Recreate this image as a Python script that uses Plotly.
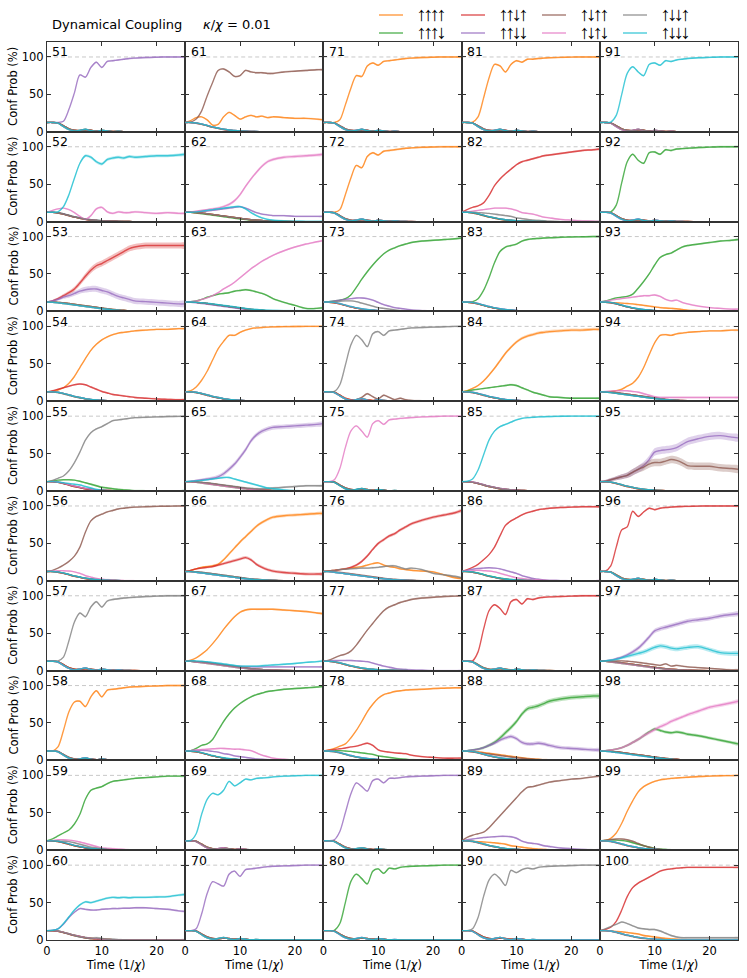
import plotly.graph_objects as go
from plotly.subplots import make_subplots

# ---------------- data ----------------
T = [0, 1, 2, 3, 4, 5, 6, 7, 8, 9, 10, 11, 12, 13, 14, 15, 16, 18, 20, 22, 24, 25.2]
CONFIG_LABELS = ["↑↑↑↑", "↑↑↑↓", "↑↑↓↑", "↑↑↓↓", "↑↓↑↑", "↑↓↑↓", "↑↓↓↑", "↑↓↓↓"]
COLORS = ["#ff7f0e", "#2ca02c", "#d62728", "#9467bd", "#8c564b", "#e377c2", "#7f7f7f", "#17becf"]
ORANGE, GREEN, RED, PURPLE, BROWN, PINK, GRAY, CYAN = range(8)
X_TICKS = [0, 10, 20]
Y_TICKS = [0, 50, 100]
PANEL_IDS = list(range(51, 101))

# shared profiles of the configurations that die out
D_FAST = [12.5, 12.5, 12, 8, 4, 2, 1.5, 2.5, 2, 1, 1.5, 1, 0.5, 0.5, 0.3, 0.2, 0.1, 0, 0, 0, 0, 0]
D_FAST2 = [12.5, 12.5, 11.5, 7, 3, 1, 2, 3.5, 1.5, 0.5, 2, 1, 0.3, 0.8, 0.2, 0.1, 0, 0, 0, 0, 0, 0]
D_MED = [12.5, 12.3, 11.5, 10, 8, 6, 4.5, 3, 2, 1.5, 1, 0.7, 0.5, 0.3, 0.2, 0.1, 0, 0, 0, 0, 0, 0]
D_MED2 = [12.5, 12.5, 12, 10.5, 8.5, 6.5, 5, 3.5, 2.5, 1.8, 1.2, 0.8, 0.5, 0.4, 0.2, 0.1, 0, 0, 0, 0, 0, 0]
D_SLOW = [12.5, 12.5, 12, 11.5, 10.5, 9.5, 8.5, 7.5, 6.5, 5.5, 4.5, 3.5, 2.5, 2, 1.5, 1, 0.7, 0.3, 0, 0, 0, 0]
D_SLOW2 = [12.5, 12.3, 11.5, 10.5, 9.5, 8.5, 7.5, 6.5, 5.5, 4.5, 3.5, 2.8, 2, 1.5, 1, 0.7, 0.4, 0.1, 0, 0, 0, 0]

P51_PURPLE = [12.5, 12.5, 12.5, 14, 30, 52, 76, 73, 86, 93, 86, 94, 95, 96, 97, 98, 98.5, 99.3, 99.7, 100, 100, 100]
P61_BROWN = [12.5, 13, 17, 28, 48, 66, 82, 84, 80, 74, 75, 82, 80, 79, 79, 78, 78, 80, 81, 82, 83, 83]
P61_ORANGE = [12.5, 15, 19, 20, 16, 9, 10, 20, 26, 22, 17, 20, 22, 20, 21, 19, 20, 19, 18, 18, 17, 16]
P71_ORANGE = [12.5, 12.5, 12.5, 16, 36, 58, 75, 74, 88, 92, 89, 94, 95, 96, 97, 98, 98.5, 99.3, 99.7, 100, 100, 100]
P81_ORANGE = [12.5, 12.5, 13, 20, 45, 72, 90, 88, 80, 90, 95, 93, 97, 97, 98, 98.5, 99, 99.5, 99.8, 100, 100, 100]
P91_CYAN = [12.5, 12.5, 13, 22, 50, 78, 87, 80, 75, 90, 92, 89, 95, 94, 96, 97, 98, 99, 99.5, 100, 100, 100]

P52_CYAN = [12.5, 12.5, 13, 20, 36, 58, 78, 88, 86, 80, 77, 83, 85, 86, 85, 87, 86, 87, 88, 88, 89, 90]
P52_PINK = [12.5, 15, 17, 18, 16, 12, 7, 3, 8, 17, 19, 13, 11, 13, 12, 12, 13, 12, 11, 12, 11, 11]
P62_PINK = [12.5, 13, 14, 15, 16, 17, 18, 20, 23, 28, 36, 47, 57, 66, 74, 80, 83, 86, 87, 88, 89, 90]
P62_CYAN = [12.5, 12.5, 13, 14, 15, 16, 17, 18, 19, 20, 20, 17, 12, 8, 5, 3, 2, 1, 0.5, 0.3, 0.2, 0.2]
P62_PURPLE = [12.5, 12.5, 13, 13.5, 14, 15, 16, 17, 18, 19, 20, 18, 15, 12, 10, 9, 8, 8, 7, 7, 7, 7]
P72_ORANGE = [12.5, 12.5, 12.5, 16, 36, 58, 75, 72, 87, 92, 89, 94, 95, 96, 97, 98, 98.5, 99.3, 99.7, 100, 100, 100]
P82_RED = [12.5, 16, 19, 21, 25, 35, 48, 57, 64, 70, 76, 80, 82, 84, 86, 88, 89, 91, 93, 95, 96, 97]
P82_PINK = [12.5, 13, 14, 15, 16, 17, 18, 18, 18, 17, 15, 12, 11, 10, 8, 6, 5, 3, 2, 1, 0.5, 0]
P82_GRAY = [12.5, 12.5, 12.5, 12, 11.5, 11, 10, 9, 8, 7, 5, 4, 3, 2, 1.5, 1, 0.5, 0, 0, 0, 0, 0]
P92_GREEN = [12.5, 12.5, 13, 22, 52, 80, 90, 82, 78, 92, 93, 90, 96, 95, 97, 97.5, 98, 99, 99.5, 100, 100, 100]

P53_RED = [12.5, 14, 17, 21, 25, 30, 38, 47, 55, 61, 64, 68, 72, 76, 80, 84, 86, 88, 88, 88, 88, 88]
P53_PURPLE = [12.5, 14, 16, 19, 21, 24, 27, 29, 30, 30, 28, 26, 23, 20, 18, 16, 14, 13, 12, 11, 10, 10]
P63_PINK = [12.5, 13, 14, 16, 18, 21, 25, 30, 34, 39, 45, 51, 57, 62, 67, 71, 75, 81, 86, 90, 93, 95]
P63_GREEN = [12.5, 13, 14, 16, 19, 21, 23, 24, 25, 27, 28, 29, 28, 26, 24, 21, 17, 12, 8, 4, 4, 5]
P63_CYAN = [12.5, 12.5, 12, 11.5, 11, 10, 9, 8, 7, 6, 5, 4, 3, 2.5, 2, 1.5, 1.2, 1, 1, 1, 0.8, 0.8]
P73_GREEN = [12.5, 13, 14, 15, 17, 22, 32, 43, 53, 62, 70, 77, 82, 85, 88, 90, 92, 94, 95, 96, 97, 98]
P73_PURPLE = [12.5, 13, 14, 15, 16, 17, 18, 18, 17, 15, 12, 9, 7, 5, 4, 3, 2, 1, 0.5, 0, 0, 0]
P73_GRAY = [12.5, 13, 13, 13.5, 14, 14, 13, 11, 9, 7, 5, 4, 3, 2, 1, 0.5, 0.3, 0, 0, 0, 0, 0]
P83_GREEN = [12.5, 12.5, 13, 17, 28, 45, 65, 80, 86, 88, 90, 94, 96, 97, 97.5, 98, 98.5, 99, 99.5, 99.7, 100, 100]
P93_GREEN = [12.5, 14, 16, 18, 19, 20, 23, 31, 40, 50, 62, 72, 76, 78, 82, 86, 88, 90, 92, 94, 95, 96]
P93_PINK = [12.5, 13.5, 15, 16, 17, 18, 19, 20, 21, 21, 22, 20, 16, 14, 15, 12, 10, 7, 5, 4, 3, 3]
P93_ORANGE = [12.5, 12.5, 12, 11.5, 11, 10.5, 10, 9, 8, 7, 6, 5, 4.5, 4, 3.5, 2.5, 1.5, 1, 0.5, 0, 0, 0]

P54_ORANGE = [12.5, 13, 15, 18, 24, 33, 45, 57, 68, 76, 82, 86, 89, 91, 92, 93, 94, 95, 96, 96, 97, 97]
P54_RED = [12.5, 14, 16, 18, 20, 22, 23, 22, 19, 16, 13, 11, 9, 8, 7, 6, 5, 4, 3, 2.5, 2, 2]
P64_ORANGE = [12.5, 14, 19, 28, 40, 55, 70, 80, 88, 88, 92, 95, 97, 98, 98.5, 99, 99.3, 99.6, 99.8, 100, 100, 100]
P74_GRAY = [12.5, 12.5, 13, 22, 48, 75, 88, 82, 73, 90, 93, 88, 94, 95, 96, 97, 98, 98.5, 99, 99.5, 100, 100]
P74_BROWN = [12.5, 12.5, 12, 8, 3, 1, 2, 5, 10, 6, 3, 8, 5, 2, 4, 2, 1, 0.5, 0.2, 0, 0, 0]
P84_ORANGE = [12.5, 14, 17, 21, 27, 35, 44, 54, 64, 72, 79, 84, 87, 89, 91, 92, 93, 94, 95, 95, 96, 96]
P84_GREEN = [12.5, 13.5, 15, 16, 17, 18, 19, 20, 21, 22, 21, 18, 15, 12, 10, 8, 6, 5, 4, 4, 4, 4]
P94_ORANGE = [12.5, 12.5, 13, 14, 16, 20, 24, 32, 45, 62, 78, 88, 89, 88, 90, 91, 92, 93, 94, 94, 95, 95]
P94_PINK = [12.5, 13, 13.5, 14, 14, 14, 13, 12, 10, 8, 6, 5, 5, 5, 5, 5, 5, 5, 5, 5, 5, 5]

P55_GRAY = [12.5, 14, 17, 20, 27, 38, 52, 68, 78, 83, 86, 90, 94, 95, 96, 97, 98, 98.5, 99, 99.5, 99.7, 100]
P55_GREEN = [12.5, 13.5, 14.5, 15, 15, 14.5, 13, 11, 9, 7, 5, 4, 3, 2, 1.5, 1, 0.5, 0.3, 0, 0, 0, 0]
P55_CYAN = [12.5, 12.5, 12, 11, 10, 9, 8, 6, 4, 2, 1, 0.5, 0.2, 0, 0, 0, 0, 0, 0, 0, 0, 0]
P65_PURPLE = [12.5, 13, 14, 15, 16, 17, 19, 23, 29, 36, 45, 55, 67, 75, 80, 83, 85, 86, 87, 88, 89, 90]
P65_CYAN = [12.5, 13, 13.5, 14, 15, 16, 17, 18, 18, 16, 14, 12, 10, 8, 6, 4, 3, 1.5, 0.5, 0.2, 0, 0]
P65_GRAY = [12.5, 12.5, 12, 11.5, 11, 10, 9, 8, 7, 6, 5, 4, 3.5, 3, 3, 3.5, 4, 5, 6, 7, 7, 7]
P75_PINK = [12.5, 12.5, 15, 30, 58, 80, 87, 80, 72, 90, 94, 89, 95, 96, 97, 97.5, 98, 99, 99.5, 100, 100, 100]
P85_CYAN = [12.5, 13, 16, 28, 48, 68, 80, 86, 89, 92, 95, 97, 98, 98.5, 99, 99.3, 99.5, 99.8, 100, 100, 100, 100]
P95_PURPLE = [12.5, 13, 15, 17, 19, 21, 25, 29, 34, 42, 52, 54, 55, 56, 58, 62, 66, 70, 73, 74, 72, 71]
P95_BROWN = [12.5, 13, 15, 17, 19, 21, 25, 29, 32, 36, 38, 38, 40, 42, 41, 38, 34, 33, 33, 31, 30, 29]

P56_BROWN = [12.5, 14, 17, 21, 26, 33, 45, 65, 80, 86, 89, 92, 94, 96, 97, 98, 98.5, 99, 99.5, 99.7, 100, 100]
P56_PINK = [12.5, 13, 13.5, 13.5, 13, 12, 10, 7, 5, 3, 2, 1.5, 1, 0.5, 0.3, 0.2, 0, 0, 0, 0, 0, 0]
P66_ORANGE = [12.5, 14, 16, 18, 19, 20, 22, 28, 36, 44, 52, 59, 66, 73, 78, 82, 85, 87, 88, 89, 90, 90]
P66_RED = [12.5, 14, 16, 17, 18, 19, 21, 23, 25, 27, 29, 31, 28, 22, 18, 15, 13, 11, 10, 9, 9, 9]
P76_RED = [12.5, 13, 14, 15, 16, 18, 21, 26, 33, 42, 50, 55, 60, 63, 68, 72, 76, 81, 85, 88, 91, 94]
P76_ORANGE = [12.5, 13, 14, 15, 16, 17, 18, 19, 21, 23, 24, 21, 19, 18, 16, 15, 14, 13, 12, 8, 4, 3]
P76_GRAY = [12.5, 13, 14, 15, 15.5, 16, 16.5, 17, 17, 17.5, 18, 19, 20, 20, 18, 16, 17, 15, 10, 8, 6, 4]
P86_RED = [12.5, 15, 18, 22, 28, 35, 45, 60, 74, 80, 84, 88, 91, 93, 95, 96, 97, 98, 98.5, 99, 99, 99]
P86_PURPLE = [12.5, 14, 15.5, 16.5, 17, 17.5, 17, 16, 14, 12, 10, 7, 5, 3, 2, 1, 0.5, 0.3, 0, 0, 0, 0]
P86_PINK = [12.5, 13, 13.5, 14, 13.5, 13, 12, 10, 8, 6, 4, 3, 2, 1.5, 1, 0.5, 0.2, 0, 0, 0, 0, 0]
P96_RED = [12.5, 13, 20, 45, 68, 72, 93, 86, 92, 97, 95, 97, 98, 98.5, 99, 99.3, 99.5, 99.8, 100, 100, 100, 100]

P57_GRAY = [12.5, 12.5, 13, 18, 40, 65, 77, 72, 85, 92, 85, 93, 95, 96, 97, 97.5, 98, 99, 99.5, 100, 100, 100]
P67_ORANGE = [12.5, 14, 17, 22, 28, 36, 45, 55, 64, 72, 78, 81, 82, 82, 82, 82, 82, 81, 80, 79, 77, 76]
P67_CYAN = [12.5, 13, 13, 12.5, 12, 11, 10, 9, 8, 7, 6, 6, 6, 6, 6.5, 7, 7.5, 8.5, 9.5, 11, 12, 13]
P67_PURPLE = [12.5, 12.5, 12, 11.5, 11, 10, 9, 8, 7, 6, 5.5, 5, 5, 5, 5, 5, 5, 5, 5, 5, 5, 5]
P77_BROWN = [12.5, 14, 17, 20, 22, 26, 34, 44, 54, 63, 72, 80, 85, 88, 91, 93, 95, 97, 98, 99, 99.5, 100]
P77_PURPLE = [12.5, 13, 13.5, 13.5, 13.5, 13.5, 13, 12.5, 12, 10, 8, 6, 4.5, 3, 2, 1.5, 1, 0.5, 0, 0, 0, 0]
P87_RED = [12.5, 12.5, 13, 25, 55, 80, 88, 83, 75, 92, 95, 89, 96, 95, 97, 98, 98.5, 99, 99.5, 100, 100, 100]
P97_PURPLE = [12.5, 13, 14, 16, 18, 21, 25, 30, 37, 45, 53, 56, 58, 60, 62, 64, 66, 68, 70, 73, 75, 76]
P97_CYAN = [12.5, 13, 14, 15, 17, 19, 21, 23, 25, 28, 31, 33, 32, 30, 29, 30, 31, 32, 28, 24, 23, 23]
P97_BROWN = [12.5, 13, 13, 13, 13, 12.5, 12, 11, 10, 9, 8, 7, 9, 6, 7, 6, 5, 4, 3, 2, 1, 1]

P58_ORANGE = [12.5, 12.5, 18, 40, 65, 78, 79, 72, 85, 93, 85, 94, 95, 96, 97, 98, 98.5, 99, 99.5, 100, 100, 100]
P68_GREEN = [12.5, 13, 16, 20, 22, 28, 40, 52, 62, 70, 76, 81, 85, 88, 90, 92, 93, 95, 96, 97, 98, 99]
P68_PINK = [12.5, 13, 14, 14.5, 15, 15.5, 16, 16, 15.5, 15, 15, 14, 13, 10, 7, 5, 3, 1.5, 0.5, 0, 0, 0]
P68_PURPLE = [12.5, 13, 13.5, 13.5, 13, 12, 11, 9, 8, 6, 5, 4, 3, 2, 1.5, 1, 0.5, 0, 0, 0, 0, 0]
P78_ORANGE = [12.5, 14, 16, 19, 22, 30, 40, 52, 65, 75, 83, 88, 90, 92, 93, 94, 94.5, 95, 96, 96.5, 97, 97]
P78_RED = [12.5, 13.5, 14.5, 15.5, 16.5, 18, 19, 21, 23, 20, 14, 12, 11, 10, 9.5, 9, 7, 5, 4, 3, 3, 3]
P78_GREEN = [12.5, 13, 13, 13, 12.5, 12, 11, 10, 9, 8, 6, 5, 4, 3, 2, 1.5, 1, 0.5, 0, 0, 0, 0]
P88_GREEN = [12.5, 13, 14, 15, 17, 20, 24, 30, 37, 44, 52, 62, 69, 71, 73, 76, 79, 82, 84, 85, 86, 86]
P88_PURPLE = [12.5, 13, 14, 15, 17, 20, 23, 27, 30, 32, 29, 24, 22, 22, 23, 22, 20, 17, 16, 15, 14, 14]
P98_PINK = [12.5, 13, 14, 15, 17, 20, 24, 28, 33, 37, 41, 45, 48, 52, 55, 58, 61, 66, 71, 74, 77, 79]
P98_GREEN = [12.5, 13, 14, 15, 17, 20, 24, 28, 33, 38, 42, 40, 38, 37, 38, 37, 35, 33, 30, 27, 24, 22]

P59_GREEN = [12.5, 15, 19, 23, 27, 35, 48, 68, 80, 83, 85, 89, 92, 93, 94, 95, 96, 97, 98, 99, 99, 99]
P59_PINK = [12.5, 13, 14, 14, 13.5, 12.5, 11, 9, 7, 5, 3, 2.5, 2, 1.5, 1, 0.5, 0.3, 0, 0, 0, 0, 0]
P59_GRAY = [12.5, 12.5, 12.5, 12, 11.5, 10, 8, 6, 4, 3, 2, 1, 0.5, 0.3, 0, 0, 0, 0, 0, 0, 0, 0]
P69_CYAN = [12.5, 13, 22, 48, 68, 76, 74, 80, 92, 86, 90, 95, 94, 96, 96.5, 97, 98, 99, 99.5, 100, 100, 100]
P79_PURPLE = [12.5, 12.5, 14, 25, 50, 75, 90, 85, 79, 93, 95, 90, 96, 96, 97, 98, 98.5, 99, 99.5, 100, 100, 100]
P89_BROWN = [12.5, 17, 20, 22, 24, 30, 38, 46, 54, 62, 70, 78, 84, 85, 87, 89, 91, 93, 95, 96, 98, 99]
P89_PURPLE = [12.5, 14, 15, 16, 17, 17.5, 18, 18.5, 18.5, 18, 16, 12, 10, 9, 8, 6, 5, 3, 2, 1, 0.5, 0.5]
P89_ORANGE = [12.5, 12.5, 12, 11.5, 11, 10.5, 10, 9, 8, 6, 5, 4, 3, 2, 1.5, 1, 0.5, 0.2, 0, 0, 0, 0]
P99_ORANGE = [12.5, 13, 16, 23, 36, 52, 66, 78, 85, 89, 92, 94, 95, 96, 96.5, 97, 97.5, 98.5, 99, 99.5, 99.7, 100]
P99_BROWN = [12.5, 13.5, 14.5, 15, 15, 14, 12, 9, 6, 4, 2, 1, 0.5, 0.2, 0, 0, 0, 0, 0, 0, 0, 0]
P99_GREEN = [12.5, 13, 13.5, 13.5, 13, 12, 10, 8, 6, 4, 2.5, 1.5, 1, 0.5, 0.2, 0, 0, 0, 0, 0, 0, 0]

P60_CYAN = [12.5, 13, 15, 22, 31, 40, 47, 51, 50, 52, 54, 56, 57, 56.5, 57, 56.5, 57, 57, 57.5, 58, 60, 61]
P60_PURPLE = [12.5, 13, 15, 21, 30, 37, 42, 41, 40, 40, 41, 41.5, 42, 42, 42.5, 42.5, 43, 43, 42, 41, 39, 38]
P60_GRAY = [12.5, 12.5, 12, 10, 8, 6, 4, 3, 2, 3, 2, 1, 1, 0.5, 0.3, 0.2, 0, 0, 0, 0, 0, 0]
P70_PURPLE = [12.5, 12.5, 15, 35, 62, 78, 75, 72, 88, 92, 85, 94, 95, 96, 97, 98, 98.5, 99, 99.5, 100, 100, 100]
P80_GREEN = [12.5, 12.5, 13, 22, 50, 78, 88, 82, 75, 92, 95, 89, 96, 95, 97, 98, 98.5, 99, 99.5, 100, 100, 100]
P90_GRAY = [12.5, 12.5, 15, 30, 58, 80, 88, 82, 73, 93, 90, 94, 96, 95, 97, 98, 98.5, 99, 99.5, 100, 100, 100]
P100_RED = [12.5, 14, 17, 25, 40, 58, 70, 76, 80, 84, 88, 92, 94, 95, 96, 96.5, 97, 97, 97, 97, 97, 97]
P100_GRAY = [12.5, 15, 18, 21, 24, 22, 19, 16, 15, 14, 14, 12, 9, 6, 4, 3, 3, 3, 3, 3, 3, 3]
P100_ORANGE = [12.5, 12.5, 12, 11.5, 11, 10, 9, 8, 6, 5, 4, 3, 2, 1.5, 1, 0.5, 0.3, 0, 0, 0, 0, 0]

# ---------------- tables built from the arrays ----------------
CURVES = {
    51: {PURPLE: P51_PURPLE}, 61: {BROWN: P61_BROWN, ORANGE: P61_ORANGE},
    71: {ORANGE: P71_ORANGE}, 81: {ORANGE: P81_ORANGE}, 91: {CYAN: P91_CYAN},
    52: {CYAN: P52_CYAN, PINK: P52_PINK},
    62: {PINK: P62_PINK, CYAN: P62_CYAN, PURPLE: P62_PURPLE},
    72: {ORANGE: P72_ORANGE}, 82: {RED: P82_RED, PINK: P82_PINK, GRAY: P82_GRAY},
    92: {GREEN: P92_GREEN},
    53: {RED: P53_RED, PURPLE: P53_PURPLE},
    63: {PINK: P63_PINK, GREEN: P63_GREEN, CYAN: P63_CYAN},
    73: {GREEN: P73_GREEN, PURPLE: P73_PURPLE, GRAY: P73_GRAY},
    83: {GREEN: P83_GREEN},
    93: {GREEN: P93_GREEN, PINK: P93_PINK, ORANGE: P93_ORANGE},
    54: {ORANGE: P54_ORANGE, RED: P54_RED}, 64: {ORANGE: P64_ORANGE},
    74: {GRAY: P74_GRAY, BROWN: P74_BROWN},
    84: {ORANGE: P84_ORANGE, GREEN: P84_GREEN},
    94: {ORANGE: P94_ORANGE, PINK: P94_PINK},
    55: {GRAY: P55_GRAY, GREEN: P55_GREEN, CYAN: P55_CYAN},
    65: {PURPLE: P65_PURPLE, CYAN: P65_CYAN, GRAY: P65_GRAY},
    75: {PINK: P75_PINK}, 85: {CYAN: P85_CYAN},
    95: {PURPLE: P95_PURPLE, BROWN: P95_BROWN},
    56: {BROWN: P56_BROWN, PINK: P56_PINK},
    66: {ORANGE: P66_ORANGE, RED: P66_RED},
    76: {RED: P76_RED, ORANGE: P76_ORANGE, GRAY: P76_GRAY},
    86: {RED: P86_RED, PURPLE: P86_PURPLE, PINK: P86_PINK},
    96: {RED: P96_RED},
    57: {GRAY: P57_GRAY},
    67: {ORANGE: P67_ORANGE, CYAN: P67_CYAN, PURPLE: P67_PURPLE},
    77: {BROWN: P77_BROWN, PURPLE: P77_PURPLE}, 87: {RED: P87_RED},
    97: {PURPLE: P97_PURPLE, CYAN: P97_CYAN, BROWN: P97_BROWN},
    58: {ORANGE: P58_ORANGE},
    68: {GREEN: P68_GREEN, PINK: P68_PINK, PURPLE: P68_PURPLE},
    78: {ORANGE: P78_ORANGE, RED: P78_RED, GREEN: P78_GREEN},
    88: {GREEN: P88_GREEN, PURPLE: P88_PURPLE, ORANGE: D_SLOW, BROWN: D_SLOW2},
    98: {PINK: P98_PINK, GREEN: P98_GREEN},
    59: {GREEN: P59_GREEN, PINK: P59_PINK, GRAY: P59_GRAY},
    69: {CYAN: P69_CYAN}, 79: {PURPLE: P79_PURPLE},
    89: {BROWN: P89_BROWN, PURPLE: P89_PURPLE, ORANGE: P89_ORANGE},
    99: {ORANGE: P99_ORANGE, BROWN: P99_BROWN, GREEN: P99_GREEN},
    60: {CYAN: P60_CYAN, PURPLE: P60_PURPLE, GRAY: P60_GRAY},
    70: {PURPLE: P70_PURPLE}, 80: {GREEN: P80_GREEN}, 90: {GRAY: P90_GRAY},
    100: {RED: P100_RED, GRAY: P100_GRAY, ORANGE: P100_ORANGE},
}
FAST, MED, SLOW = (D_FAST, D_FAST2), (D_MED, D_MED2), (D_SLOW, D_SLOW2)
REST = {
    51: FAST, 61: MED, 71: FAST, 81: FAST, 91: FAST,
    52: MED, 62: SLOW, 72: FAST, 82: MED, 92: FAST,
    53: SLOW, 63: SLOW, 73: MED, 83: MED, 93: MED,
    54: MED, 64: MED, 74: FAST, 84: MED, 94: SLOW,
    55: MED, 65: SLOW, 75: FAST, 85: MED, 95: MED,
    56: MED, 66: SLOW, 76: SLOW, 86: MED, 96: FAST,
    57: FAST, 67: SLOW, 77: MED, 87: FAST, 97: SLOW,
    58: FAST, 68: MED, 78: MED, 88: MED, 98: SLOW,
    59: MED, 69: FAST, 79: FAST, 89: MED, 99: MED,
    60: MED, 70: FAST, 80: FAST, 90: FAST, 100: MED,
}
# half-width of the shaded spread (style)
BAND = {(53, RED): 4, (53, PURPLE): 4, (95, PURPLE): 5, (95, BROWN): 5,
        (97, PURPLE): 3, (97, CYAN): 3, (88, GREEN): 3, (88, PURPLE): 2.5,
        (65, PURPLE): 3, (66, ORANGE): 2, (66, RED): 2, (60, CYAN): 1.5,
        (62, PINK): 2, (98, PINK): 2.5, (98, GREEN): 2, (52, CYAN): 2,
        (52, PINK): 1.5, (84, ORANGE): 2, (76, RED): 2}


def rgba(hexc, a):
    h = hexc.lstrip("#")
    return "rgba(%d,%d,%d,%.2f)" % (int(h[0:2], 16), int(h[2:4], 16), int(h[4:6], 16), a)


W, H = 747, 978
L, R, TOP, B = 47, 738, 42, 940
FONT = "DejaVu Sans"


def px_x(px):
    return (px - L) / (R - L)


def px_y(py):
    return (B - py) / (B - TOP)


fig = make_subplots(rows=10, cols=5, horizontal_spacing=0, vertical_spacing=0)

for pid in PANEL_IDS:
    col = (pid - 51) // 10 + 1
    row = (pid - 51) % 10 + 1
    curves = CURVES[pid]
    rest = REST[pid]
    for ci in range(8):
        vals = curves.get(ci, rest[ci % 2])
        explicit = ci in curves
        bw = BAND.get((pid, ci), 1.2 if explicit else 0.6)
        widths = [bw * min(1.0, 0.25 + t / 10.0) for t in T]
        upper = [v + w for v, w in zip(vals, widths)]
        lower = [v - w for v, w in zip(vals, widths)]
        fig.add_trace(go.Scatter(
            x=T + T[::-1], y=upper + lower[::-1], fill="toself",
            fillcolor=rgba(COLORS[ci], 0.3), line=dict(width=0, shape="spline", smoothing=0.8),
            mode="lines", hoverinfo="skip", showlegend=False), row=row, col=col)
        fig.add_trace(go.Scatter(
            x=T, y=vals, mode="lines",
            line=dict(color=rgba(COLORS[ci], 0.75), width=1.4, shape="spline", smoothing=0.8),
            hoverinfo="skip", showlegend=False), row=row, col=col)

    n = (row - 1) * 5 + col
    sfx = "" if n == 1 else str(n)
    fig.add_shape(type="line", xref="x%s domain" % sfx, yref="y%s" % sfx,
                  x0=0, x1=1, y0=100, y1=100,
                  line=dict(color="#c8c8c8", width=1, dash="4px,3px"), layer="below")
    fig.add_annotation(text=str(pid), xref="x%s domain" % sfx, yref="y%s domain" % sfx,
                       x=0.025, y=0.995, xanchor="left", yanchor="top", showarrow=False,
                       font=dict(family=FONT, size=12.5, color="black"))

axis_common = dict(showgrid=False, zeroline=False, showline=True, linecolor="#333333",
                   linewidth=1, mirror="ticks", ticks="inside", ticklen=4, tickwidth=1,
                   tickcolor="#333333", tickfont=dict(family=FONT, size=11.5, color="black"))
for n in range(1, 51):
    row = (n - 1) // 5 + 1
    col = (n - 1) % 5 + 1
    fig.update_xaxes(range=[0, 25.2], tickvals=X_TICKS, showticklabels=(row == 10),
                     row=row, col=col, **axis_common)
    fig.update_yaxes(range=[0, 120], tickvals=Y_TICKS, showticklabels=(col == 1),
                     row=row, col=col, **axis_common)
    if row == 10:
        fig.update_xaxes(title=dict(text="Time (1/<i>χ</i>)", font=dict(family=FONT, size=11.5),
                                    standoff=2), row=row, col=col)

# y-axis titles of the first column
ROW_H = (B - TOP) / 10.0
for r in range(10):
    fig.add_annotation(text="Conf Prob (%)", xref="paper", yref="paper",
                       x=px_x(13), y=px_y(TOP + ROW_H * (r + 0.5)), textangle=-90,
                       xanchor="center", yanchor="middle", showarrow=False,
                       font=dict(family=FONT, size=11.5, color="black"))

# legend: four columns of two entries each
LEG_LINE_X = [379, 461, 542, 623]
LEG_ROW_Y = [15, 33]
LEG_ORDER = [ORANGE, GREEN, RED, PURPLE, BROWN, PINK, GRAY, CYAN]
for k in range(4):
    for j in range(2):
        cfg = LEG_ORDER[2 * k + j]
        x0 = LEG_LINE_X[k]
        yy = LEG_ROW_Y[j]
        fig.add_shape(type="line", xref="paper", yref="paper",
                      x0=px_x(x0), x1=px_x(x0 + 24), y0=px_y(yy), y1=px_y(yy),
                      line=dict(color=rgba(COLORS[cfg], 0.55), width=2))
        fig.add_annotation(text=CONFIG_LABELS[cfg], xref="paper", yref="paper",
                           x=px_x(x0 + 37), y=px_y(yy), xanchor="left", yanchor="middle",
                           showarrow=False,
                           font=dict(family="Noto Sans Math", size=12.5, color="black"))

fig.add_annotation(text="Dynamical Coupling", xref="paper", yref="paper",
                   x=px_x(50), y=px_y(25), xanchor="left", yanchor="middle",
                   showarrow=False, font=dict(family=FONT, size=13, color="black"))
fig.add_annotation(text="<i>κ</i>/<i>χ</i> = 0.01", xref="paper", yref="paper",
                   x=px_x(201), y=px_y(25), xanchor="left", yanchor="middle",
                   showarrow=False, font=dict(family=FONT, size=13, color="black"))

fig.update_layout(width=W, height=H, showlegend=False,
                  margin=dict(l=L, r=W - R, t=TOP, b=H - B, autoexpand=False),
                  paper_bgcolor="white", plot_bgcolor="white",
                  font=dict(family=FONT, size=11.5, color="black"))

fig.write_html("out.html", post_script="document.body.style.margin='0';",
               config={"displayModeBar": False})
